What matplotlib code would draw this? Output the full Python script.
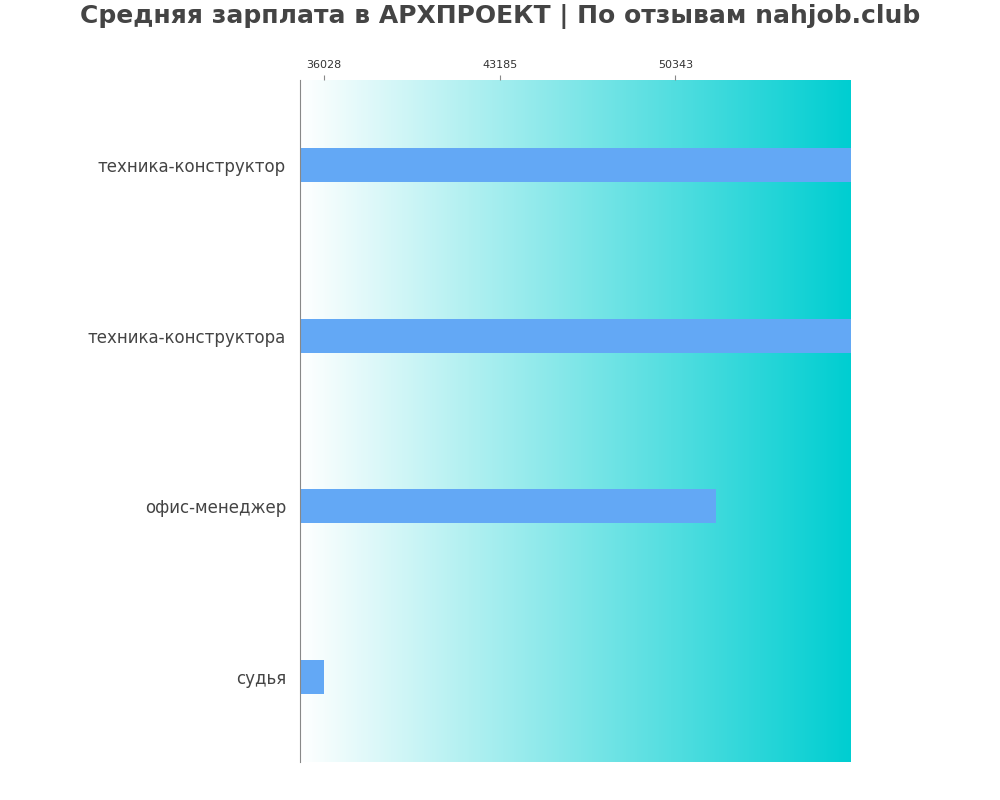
import numpy as np
import matplotlib.pyplot as plt
from matplotlib.colors import LinearSegmentedColormap

jobs = ["техника-конструктор", "техника-конструктора", "офис-менеджер", "судья"]
salaries = [57500, 57500, 52000, 36028]
ticks = [36028, 43185, 50343]

fig = plt.figure(figsize=(10, 8), dpi=100)
ax = fig.add_axes([0.30, 0.0475, 0.551, 0.8525])

xmin, xmax = 35050, 57500
ypos = np.arange(len(jobs))

cmap = LinearSegmentedColormap.from_list("bg", ["#ffffff", "#00ced1"])
grad = np.linspace(0, 1, 256).reshape(1, -1)
ax.imshow(grad, cmap=cmap, aspect="auto", extent=[xmin, xmax, len(jobs) - 0.5, -0.5], zorder=0)

ax.barh(ypos, [s - xmin for s in salaries], left=xmin, height=0.2, color="#63a8f5", zorder=2)

ax.set_xlim(xmin, xmax)
ax.set_ylim(len(jobs) - 0.5, -0.5)
ax.set_yticks(ypos)
ax.set_yticklabels(jobs, fontsize=12, color="#444444")
ax.tick_params(axis="y", length=0, pad=10)
ax.xaxis.tick_top()
ax.set_xticks(ticks)
ax.set_xticklabels([str(t) for t in ticks], fontsize=8, color="#333333")
ax.tick_params(axis="x", color="#888888")
for s in ["top", "right", "bottom"]:
    ax.spines[s].set_visible(False)
ax.spines["left"].set_color("#888888")

fig.suptitle("Средняя зарплата в АРХПРОЕКТ | По отзывам nahjob.club",
             fontsize=18, fontweight="bold", color="#444444", y=0.995)

fig.savefig("out.png")
